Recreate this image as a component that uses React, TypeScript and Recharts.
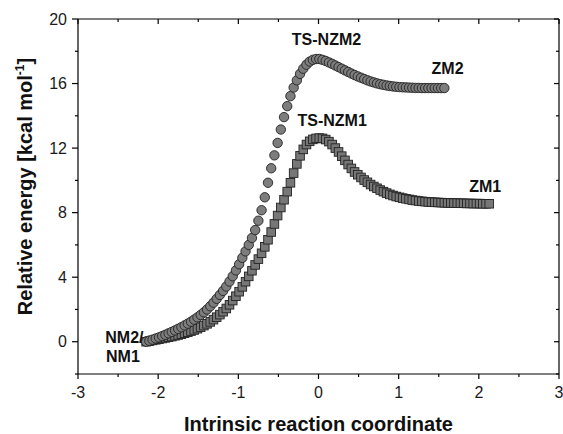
import { ScatterChart, Scatter, XAxis, YAxis, ReferenceDot } from "recharts"

const FONT = "'Liberation Sans', Arial, Helvetica, sans-serif"

// NM2 -> TS-NZM2 -> ZM2 (circles)
const irc2 = [
  -2.15, -2.11, -2.07, -2.03, -1.99, -1.95, -1.91, -1.87, -1.83, -1.79, -1.75, -1.71,
  -1.67, -1.63, -1.59, -1.55, -1.51, -1.47, -1.43, -1.39, -1.35, -1.31, -1.27, -1.23,
  -1.19, -1.15, -1.11, -1.07, -1.03, -0.99, -0.95, -0.91, -0.87, -0.83, -0.79, -0.75,
  -0.71, -0.67, -0.63, -0.59, -0.55, -0.51, -0.47, -0.43, -0.39, -0.35, -0.31, -0.27,
  -0.23, -0.19, -0.15, -0.11, -0.07, -0.03, 0.01, 0.05, 0.09, 0.13, 0.17, 0.21,
  0.25, 0.29, 0.33, 0.37, 0.41, 0.45, 0.49, 0.53, 0.57, 0.61, 0.65, 0.69,
  0.73, 0.77, 0.81, 0.85, 0.89, 0.93, 0.97, 1.01, 1.05, 1.09, 1.13, 1.17,
  1.21, 1.25, 1.29, 1.33, 1.37, 1.41, 1.45, 1.49, 1.53, 1.57,
]
const energy2 = [
  0.0, 0.06, 0.13, 0.2, 0.27, 0.35, 0.43, 0.52, 0.61, 0.7, 0.8, 0.9,
  1.01, 1.12, 1.24, 1.37, 1.51, 1.66, 1.82, 2.0, 2.2, 2.42, 2.66, 2.9,
  3.15, 3.42, 3.73, 4.06, 4.42, 4.8, 5.2, 5.6, 6.0, 6.43, 6.92, 7.5,
  8.15, 8.95, 9.85, 10.75, 11.55, 12.32, 13.15, 13.92, 14.6, 15.22, 15.75, 16.2,
  16.6, 16.92, 17.17, 17.36, 17.47, 17.52, 17.52, 17.47, 17.4, 17.31, 17.22, 17.12,
  17.02, 16.92, 16.82, 16.72, 16.62, 16.53, 16.44, 16.36, 16.28, 16.2, 16.13, 16.07,
  16.01, 15.96, 15.92, 15.88, 15.85, 15.82, 15.8, 15.78, 15.77, 15.76, 15.75, 15.74,
  15.73, 15.73, 15.72, 15.72, 15.72, 15.72, 15.72, 15.72, 15.72, 15.72,
]

// NM1 -> TS-NZM1 -> ZM1 (squares)
const irc1 = [
  -2.15, -2.11, -2.07, -2.03, -1.99, -1.95, -1.91, -1.87, -1.83, -1.79, -1.75, -1.71,
  -1.67, -1.63, -1.59, -1.55, -1.51, -1.47, -1.43, -1.39, -1.35, -1.31, -1.27, -1.23,
  -1.19, -1.15, -1.11, -1.07, -1.03, -0.99, -0.95, -0.91, -0.87, -0.83, -0.79, -0.75,
  -0.71, -0.67, -0.63, -0.59, -0.55, -0.51, -0.47, -0.43, -0.39, -0.35, -0.31, -0.27,
  -0.23, -0.19, -0.15, -0.11, -0.07, -0.03, 0.01, 0.05, 0.09, 0.13, 0.17, 0.21,
  0.25, 0.29, 0.33, 0.37, 0.41, 0.45, 0.49, 0.53, 0.57, 0.61, 0.65, 0.69,
  0.73, 0.77, 0.81, 0.85, 0.89, 0.93, 0.97, 1.01, 1.05, 1.09, 1.13, 1.17,
  1.21, 1.25, 1.29, 1.33, 1.37, 1.41, 1.45, 1.49, 1.53, 1.57, 1.61, 1.65,
  1.69, 1.73, 1.77, 1.81, 1.85, 1.89, 1.93, 1.97, 2.01, 2.05, 2.09, 2.13,
]
const energy1 = [
  0.0, 0.04, 0.08, 0.12, 0.16, 0.2, 0.24, 0.28, 0.32, 0.37, 0.42, 0.47,
  0.53, 0.59, 0.66, 0.73, 0.81, 0.9, 1.0, 1.11, 1.23, 1.37, 1.52, 1.68,
  1.86, 2.06, 2.29, 2.55, 2.82, 3.1, 3.4, 3.72, 4.05, 4.4, 4.76, 5.12,
  5.48, 5.88, 6.32, 6.8, 7.3, 7.82, 8.32, 8.8, 9.3, 9.85, 10.45, 11.02,
  11.52, 11.92, 12.22, 12.42, 12.54, 12.6, 12.62, 12.6, 12.53, 12.4, 12.22, 12.0,
  11.76, 11.5, 11.24, 10.98, 10.74, 10.52, 10.35, 10.18, 10.02, 9.88, 9.74, 9.62,
  9.51, 9.4, 9.3, 9.21, 9.13, 9.06, 9.0, 8.95, 8.9, 8.86, 8.82, 8.78,
  8.75, 8.72, 8.7, 8.68, 8.66, 8.65, 8.64, 8.63, 8.62, 8.61, 8.6, 8.6,
  8.59, 8.59, 8.58, 8.58, 8.57, 8.57, 8.56, 8.56, 8.56, 8.55, 8.55, 8.55,
]

const xTicks = [-3, -2.5, -2, -1.5, -1, -0.5, 0, 0.5, 1, 1.5, 2, 2.5, 3]
const yTicks = [-2, 0, 2, 4, 6, 8, 10, 12, 14, 16, 18, 20]
const yMajor = [0, 4, 8, 12, 16, 20]

// structure names, anchored in data space
const tags = [
  { text: "TS-NZM2", x: 0.1, e: 18.39, anchor: "middle" },
  { text: "ZM2", x: 1.61, e: 16.59, anchor: "middle" },
  { text: "TS-NZM1", x: 0.17, e: 13.39, anchor: "middle" },
  { text: "ZM1", x: 2.08, e: 9.3, anchor: "middle" },
  { text: "NM2/", x: -2.66, e: -0.1, anchor: "start" },
  { text: "NM1", x: -2.65, e: -1.26, anchor: "start" },
]

const circleData = irc2.map((x, i) => ({ x, e: energy2[i] }))
const squareData = irc1.map((x, i) => ({ x, e: energy1[i] }))

const INK = "#000"

const Ball = (p: any) => (
  <circle cx={p.cx} cy={p.cy} r={4.7} fill="#7d7d7d" stroke="#222" strokeWidth={0.9} />
)

const Block = (p: any) => (
  <rect x={p.cx - 4.3} y={p.cy - 4.3} width={8.6} height={8.6} fill="#777" stroke="#222" strokeWidth={0.9} />
)

const BottomTick = (props: any) => {
  const { x, y, payload } = props
  const major = Number.isInteger(payload.value)
  return (
    <g>
      <line x1={x} y1={y} x2={x} y2={y + (major ? 5 : 3)} stroke={INK} strokeWidth={1.2} />
      {major && (
        <text x={x} y={y + 24} textAnchor="middle" fontSize={16} fontFamily={FONT} fill="#1a1a1a">
          {payload.value}
        </text>
      )}
    </g>
  )
}

const TopTick = (props: any) => {
  const { x, y, payload } = props
  const major = Number.isInteger(payload.value)
  return <line x1={x} y1={y} x2={x} y2={y + (major ? 5 : 3)} stroke={INK} strokeWidth={1.2} />
}

const LeftTick = (props: any) => {
  const { x, y, payload } = props
  const major = yMajor.includes(payload.value)
  return (
    <g>
      <line x1={x - (major ? 6 : 3)} y1={y} x2={x} y2={y} stroke={INK} strokeWidth={1.2} />
      {major && (
        <text x={x - 11} y={y} dy="0.36em" textAnchor="end" fontSize={16} fontFamily={FONT} fill="#1a1a1a">
          {payload.value}
        </text>
      )}
    </g>
  )
}

const RightTick = (props: any) => {
  const { x, y, payload } = props
  const major = yMajor.includes(payload.value)
  return <line x1={x - (major ? 5 : 3)} y1={y} x2={x} y2={y} stroke={INK} strokeWidth={1.2} />
}

const XTitle = (props: any) => {
  const vb = props.viewBox
  return (
    <text x={vb.x + vb.width / 2} y={vb.y + 57} textAnchor="middle" fontSize={20} fontWeight="bold" fontFamily={FONT} fill="#111">
      Intrinsic reaction coordinate
    </text>
  )
}

const YTitle = (props: any) => {
  const vb = props.viewBox
  const cx = vb.x + 32
  const cy = vb.y + vb.height / 2 - 10
  return (
    <text x={cx} y={cy} transform={`rotate(-90, ${cx}, ${cy})`} textAnchor="middle" fontSize={20} fontWeight="bold" fontFamily={FONT} fill="#111">
      Relative energy [kcal mol
      <tspan fontSize={12} dy={-8}>-1</tspan>
      <tspan dy={8}>]</tspan>
    </text>
  )
}

const Tag = (props: any) => {
  const { viewBox, txt, anchor } = props
  return (
    <text x={viewBox.x} y={viewBox.y} textAnchor={anchor} fontSize={16} fontWeight="bold" fontFamily={FONT} fill="#111">
      {txt}
    </text>
  )
}

export default function App() {
  return (
    <div style={{ position: "absolute", left: 0, top: 0, background: "#fff" }}>
      <ScatterChart width={563} height={434} margin={{ top: 19, right: 4, bottom: 0, left: 0 }}>
        <XAxis
          type="number"
          dataKey="x"
          domain={[-3, 3]}
          ticks={xTicks}
          interval={0}
          allowDataOverflow
          height={60}
          tickSize={0}
          tickMargin={0}
          tickLine={false}
          axisLine={{ stroke: INK, strokeWidth: 1.2 }}
          tick={<BottomTick />}
          label={<XTitle />}
        />
        <XAxis
          xAxisId="top"
          orientation="top"
          mirror
          type="number"
          dataKey="x"
          domain={[-3, 3]}
          ticks={xTicks}
          interval={0}
          allowDataOverflow
          tickSize={0}
          tickMargin={0}
          tickLine={false}
          axisLine={{ stroke: INK, strokeWidth: 1.2 }}
          tick={<TopTick />}
        />
        <YAxis
          type="number"
          dataKey="e"
          domain={[-2, 20]}
          ticks={yTicks}
          interval={0}
          allowDataOverflow
          width={78}
          tickSize={0}
          tickMargin={0}
          tickLine={false}
          axisLine={{ stroke: INK, strokeWidth: 1.2 }}
          tick={<LeftTick />}
          label={<YTitle />}
        />
        <YAxis
          yAxisId="right"
          orientation="right"
          mirror
          type="number"
          dataKey="e"
          domain={[-2, 20]}
          ticks={yTicks}
          interval={0}
          allowDataOverflow
          tickSize={0}
          tickMargin={0}
          tickLine={false}
          axisLine={{ stroke: INK, strokeWidth: 1.2 }}
          tick={<RightTick />}
        />
        <Scatter name="NM1-ZM1" data={squareData} shape={Block} isAnimationActive={false} />
        <Scatter name="NM2-ZM2" data={circleData} shape={Ball} isAnimationActive={false} />
        {tags.map((t) => (
          <ReferenceDot
            key={t.text}
            x={t.x}
            y={t.e}
            r={0}
            fill="none"
            stroke="none"
            label={<Tag txt={t.text} anchor={t.anchor} />}
          />
        ))}
      </ScatterChart>
    </div>
  )
}
